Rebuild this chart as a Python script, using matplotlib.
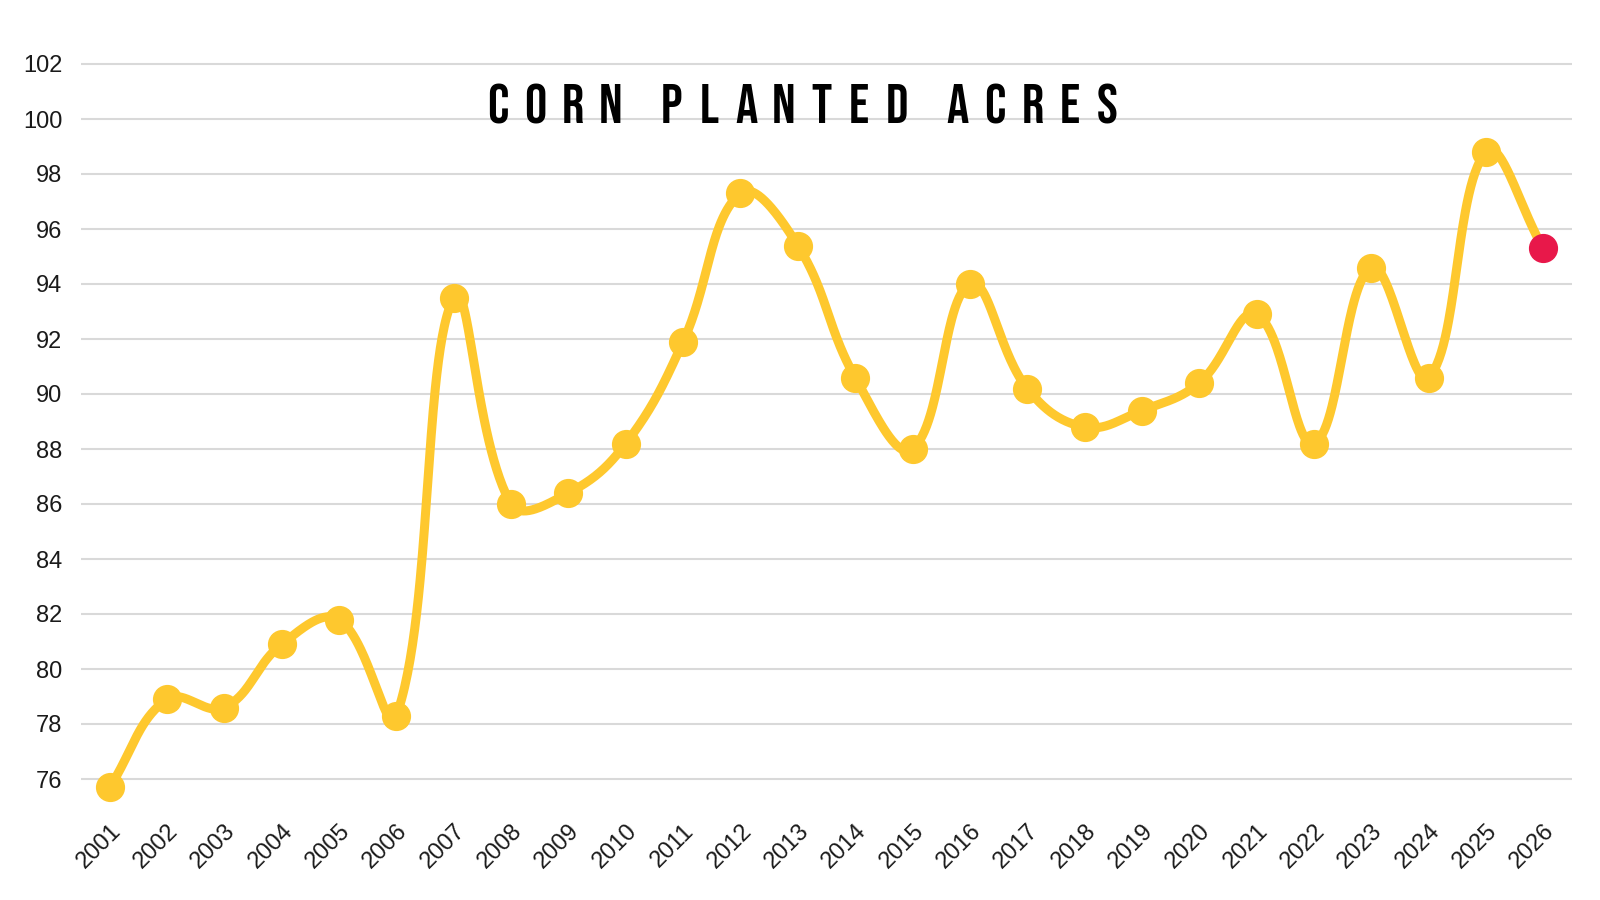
import numpy as np
import matplotlib
matplotlib.use("Agg")
import matplotlib.pyplot as plt
import matplotlib.font_manager as fm

# ---------------- data ----------------
years = list(range(2001, 2027))
acres = [75.7, 78.9, 78.6, 80.9, 81.8, 78.3, 93.5, 86.0, 86.4, 88.2,
         91.9, 97.3, 95.4, 90.6, 88.0, 94.0, 90.2, 88.8, 89.4, 90.4,
         92.9, 88.2, 94.6, 90.6, 98.8, 95.3]
y_ticks = list(range(76, 103, 2))
title_text = "CORN PLANTED ACRES"
highlight_year = 2026

# ---------------- style ----------------
YELLOW = "#FEC82E"
RED = "#E8184A"
GRID = "#d9d9d9"
TEXT = "#1a1a1a"

names = {f.name for f in fm.fontManager.ttflist}
tick_font = "Liberation Sans" if "Liberation Sans" in names else "DejaVu Sans"
title_font = "DejaVu Sans"
for cand in ["Bebas Neue", "Oswald", "Liberation Sans Narrow", "DejaVu Sans Condensed"]:
    if cand in names:
        title_font = cand
        break

W, H = 1600, 900
fig = plt.figure(figsize=(16, 9), dpi=100)
fig.patch.set_facecolor("white")
ax = fig.add_axes([81 / W, 1 - 806.5 / H, 1491 / W, 770 / H])
ax.set_xlim(2000.5, 2026.5)
ax.set_ylim(75, 103)

for s in ax.spines.values():
    s.set_visible(False)
ax.set_yticks(y_ticks)
ax.set_yticklabels([str(v) for v in y_ticks], fontsize=17, color=TEXT, family=tick_font)
ax.set_xticks(years)
ax.set_xticklabels([str(y) for y in years], fontsize=17, color=TEXT, family=tick_font,
                   rotation=45, ha="right", va="top", rotation_mode="anchor")
ax.tick_params(axis="y", length=0, pad=13.5)
ax.tick_params(axis="x", length=0, pad=9.5)
ax.yaxis.grid(True, color=GRID, linewidth=1.5)
ax.set_axisbelow(True)

# ---------------- smooth line (Chart.js-like spline, tension 0.4) ----------------
fig.canvas.draw()
pts = ax.transData.transform(np.column_stack([years, acres]).astype(float))
n = len(pts)
tension = 0.4
cp_prev = np.zeros_like(pts)
cp_next = np.zeros_like(pts)
for i in range(n):
    prev = pts[i - 1] if i > 0 else pts[i]
    cur = pts[i]
    nxt = pts[i + 1] if i < n - 1 else pts[i]
    d01 = np.hypot(*(cur - prev))
    d12 = np.hypot(*(nxt - cur))
    tot = d01 + d12
    s01 = d01 / tot if tot else 0
    s12 = d12 / tot if tot else 0
    fa = tension * s01
    fb = tension * s12
    cp_prev[i] = cur - fa * (nxt - prev)
    cp_next[i] = cur + fb * (nxt - prev)

curve = []
tt = np.linspace(0, 1, 60)[:, None]
for i in range(n - 1):
    p0, p1, p2, p3 = pts[i], cp_next[i], cp_prev[i + 1], pts[i + 1]
    seg = ((1 - tt) ** 3) * p0 + 3 * ((1 - tt) ** 2) * tt * p1 + 3 * (1 - tt) * tt ** 2 * p2 + tt ** 3 * p3
    curve.append(seg if i == 0 else seg[1:])
curve = np.vstack(curve)
curve_data = ax.transData.inverted().transform(curve)
ax.plot(curve_data[:, 0], curve_data[:, 1], color=YELLOW, linewidth=6.5,
        solid_capstyle="round", solid_joinstyle="round", clip_on=False, zorder=3)

# ---------------- markers ----------------
mx = [y for y in years if y != highlight_year]
my = [a for y, a in zip(years, acres) if y != highlight_year]
hx = [y for y in years if y == highlight_year]
hy = [a for y, a in zip(years, acres) if y == highlight_year]
ax.plot(mx, my, "o", ms=20, color=YELLOW, mec=YELLOW, clip_on=False, zorder=4)
ax.plot(hx, hy, "o", ms=20, color=RED, mec=RED, clip_on=False, zorder=5)

# ---------------- title (letter-spaced) ----------------
pitch = 37.5
word_pitch = 61.0
x = 498.0
for k, ch in enumerate(title_text):
    if ch == " ":
        x += word_pitch - pitch
        continue
    fig.text(x / W, 1 - 123 / H, ch, fontsize=40, fontweight="bold",
             family=title_font, color="#000000", ha="center", va="baseline")
    x += pitch

fig.savefig("out.png", dpi=100, facecolor="white")
